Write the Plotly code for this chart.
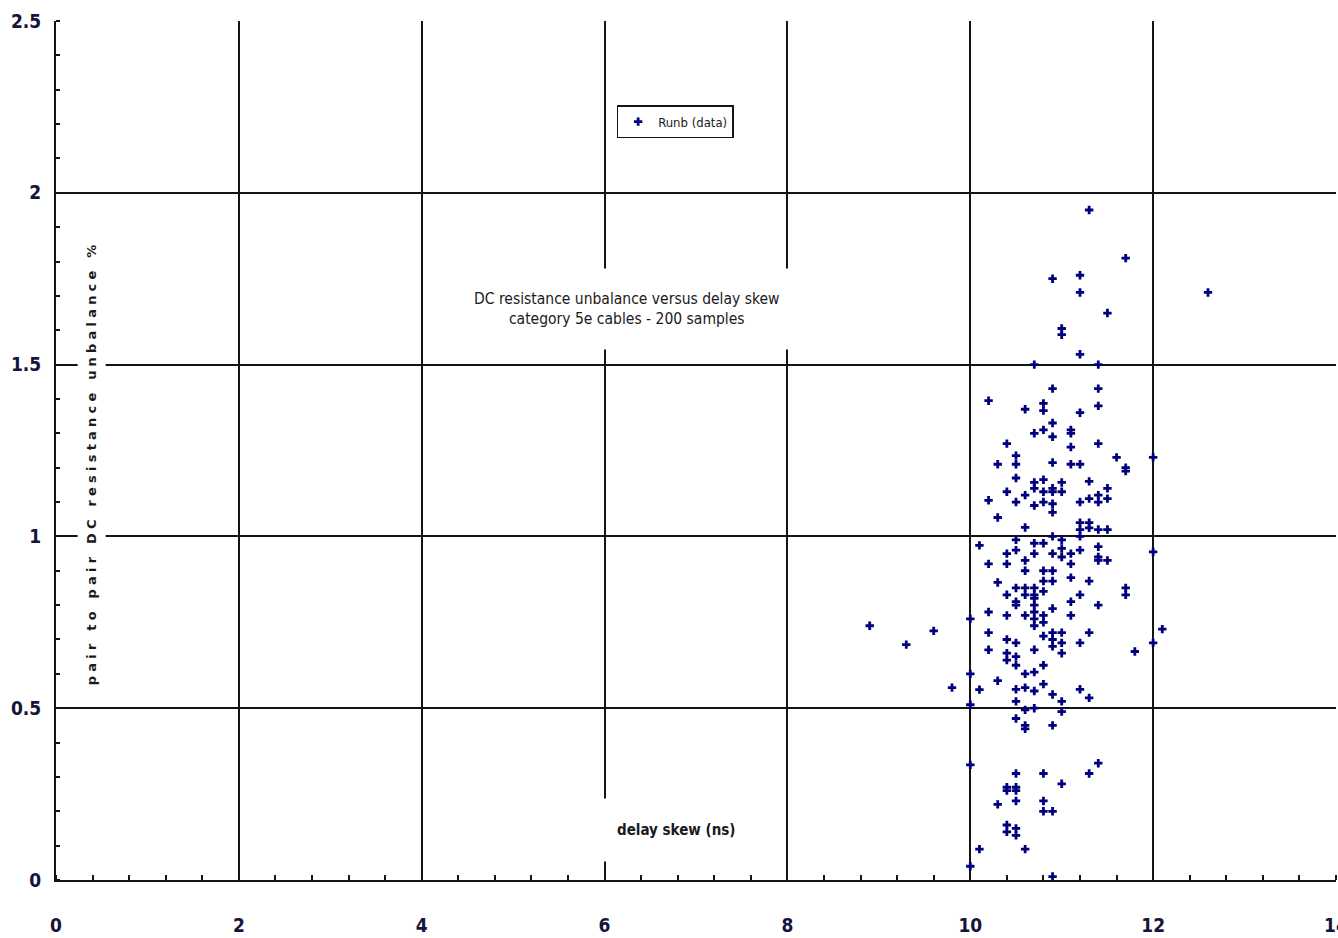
import plotly.graph_objects as go

# delay skew (ns) and DC resistance unbalance (%)
delay_skew_ns = [
    8.9, 9.3, 9.6, 9.8, 12.6, 12.1, 11.8, 12.0, 12.0, 12.0,
    11.3, 11.7, 10.9, 11.2, 11.2, 11.5, 11.0, 11.0, 11.2, 10.7, 11.4, 10.9, 11.4,
    10.2, 10.6, 10.8, 10.8, 11.2, 11.4, 10.9, 10.8, 11.1,
    10.9, 10.7, 11.1, 10.4, 11.4, 11.1, 10.5, 10.5, 11.6, 11.7, 11.7, 10.3, 10.9,
    11.1, 11.2, 10.5, 11.3, 10.7, 10.7, 10.8, 10.9, 10.9, 11.0, 11.0, 10.8, 10.8,
    10.4, 10.5, 10.6, 11.5, 11.4, 11.4, 11.5, 11.3, 11.2, 10.2, 10.7, 10.9, 10.9,
    10.3, 11.2, 11.2, 11.2, 11.3, 11.3, 11.4, 11.5, 10.6, 10.9, 11.0, 10.5, 10.5,
    10.7, 10.7, 10.8, 10.1, 11.2, 11.4, 11.4, 11.4, 11.5, 10.9, 11.0, 11.0, 11.1,
    10.4, 10.4, 10.2, 10.6, 10.6, 11.1, 11.1, 10.8, 10.8, 10.9, 10.9, 11.3, 10.3,
    11.7, 11.7, 10.5, 10.6, 10.6, 10.7, 10.7, 10.7, 10.8, 10.4, 11.2, 11.1, 10.5,
    10.5, 11.4, 10.7, 10.7, 10.9, 10.2, 10.4, 10.6, 10.7, 10.7, 10.8, 10.8, 11.1,
    10.0, 10.2, 10.4, 10.8, 10.9, 10.9, 11.0, 11.0, 11.3, 10.5, 10.7, 10.9, 11.2,
    10.2, 10.4, 10.5, 11.0,
    10.4, 10.5, 10.8, 10.0, 10.6, 10.7, 10.1, 10.3, 10.5, 10.6, 10.7, 10.8, 10.9,
    11.2, 11.3, 10.0, 10.5, 10.7, 10.6, 11.0, 11.0, 10.5, 10.9, 10.6, 10.6,
    11.4, 10.0, 11.3, 10.5, 10.8, 11.0, 10.4, 10.4, 10.5, 10.5, 10.3, 10.5, 10.8,
    10.8, 10.9, 10.4, 10.4, 10.5, 10.5, 10.1, 10.6, 10.0, 10.9,
]
dc_unbalance_pct = [
    0.74, 0.685, 0.725, 0.56, 1.71, 0.73, 0.665, 1.23, 0.955, 0.69,
    1.95, 1.81, 1.75, 1.76, 1.71, 1.65, 1.605, 1.587, 1.53, 1.50, 1.50, 1.43, 1.43,
    1.395, 1.37, 1.387, 1.366, 1.36, 1.38, 1.33, 1.31, 1.31,
    1.29, 1.30, 1.30, 1.27, 1.27, 1.26, 1.235, 1.21, 1.23, 1.20, 1.19, 1.21, 1.215,
    1.21, 1.21, 1.17, 1.16, 1.157, 1.14, 1.165, 1.14, 1.13, 1.157, 1.13, 1.13, 1.10,
    1.13, 1.10, 1.12, 1.14, 1.12, 1.10, 1.11, 1.11, 1.10, 1.105, 1.09, 1.095, 1.07,
    1.055, 1.04, 1.02, 1.00, 1.04, 1.025, 1.02, 1.02, 1.026, 1.00, 0.99, 0.99, 0.96,
    0.98, 0.95, 0.98, 0.974, 0.96, 0.97, 0.94, 0.93, 0.93, 0.95, 0.965, 0.94, 0.95,
    0.95, 0.92, 0.92, 0.93, 0.90, 0.92, 0.88, 0.90, 0.87, 0.90, 0.87, 0.87, 0.866,
    0.85, 0.83, 0.85, 0.85, 0.83, 0.85, 0.83, 0.82, 0.84, 0.83, 0.83, 0.81, 0.81,
    0.80, 0.80, 0.80, 0.78, 0.79, 0.78, 0.77, 0.77, 0.76, 0.74, 0.77, 0.75, 0.77,
    0.76, 0.72, 0.70, 0.71, 0.72, 0.70, 0.72, 0.69, 0.72, 0.69, 0.67, 0.68, 0.69,
    0.67, 0.66, 0.65, 0.66,
    0.64, 0.625, 0.625, 0.60, 0.60, 0.605, 0.554, 0.58, 0.555, 0.56, 0.55, 0.57, 0.54,
    0.555, 0.53, 0.51, 0.52, 0.50, 0.495, 0.52, 0.49, 0.47, 0.45, 0.45, 0.44,
    0.34, 0.335, 0.31, 0.31, 0.31, 0.28, 0.27, 0.26, 0.27, 0.26, 0.22, 0.23, 0.23,
    0.20, 0.20, 0.16, 0.14, 0.15, 0.13, 0.09, 0.09, 0.04, 0.01,
]

x_ticks = [0, 2, 4, 6, 8, 10, 12, 14]
y_ticks = [0, 0.5, 1, 1.5, 2, 2.5]
y_tick_text = ["0", "0.5", "1", "1.5", "2", "2.5"]

series_name = "Runb (data)"
title_text = "DC resistance unbalance versus delay skew<br>category 5e cables - 200 samples"
x_label = "delay skew (ns)"
y_label = "pair to pair DC resistance unbalance %"

INK = "#141414"
NARROW = "DejaVu Sans Condensed, Liberation Sans Narrow, sans-serif"

fig = go.Figure()
fig.add_trace(go.Scatter(
    x=delay_skew_ns, y=dc_unbalance_pct, mode="markers", name=series_name,
    marker=dict(symbol="cross", size=7, color="#00007f"),
))

axis_common = dict(
    showgrid=True, gridcolor=INK, gridwidth=2,
    showline=True, linecolor=INK, linewidth=2,
    zeroline=False, ticks="", automargin=False,
    ticklabeloverflow="allow",
    tickfont=dict(family=NARROW, size=19, color="#15153a", weight="bold"),
)

fig.update_layout(
    width=1338, height=938,
    margin=dict(l=56, r=2, t=21, b=58),
    paper_bgcolor="white", plot_bgcolor="white",
    showlegend=True,
    legend=dict(
        x=0.438, y=0.902, xanchor="left", yanchor="top",
        bordercolor=INK, borderwidth=1.5, bgcolor="white",
        font=dict(family=NARROW, size=13, color="#1a1a1a"),
        itemwidth=30,
    ),
    xaxis=dict(
        range=[0, 14], tickvals=x_ticks, ticktext=[str(v) for v in x_ticks],
        ticklabelstandoff=27,
        minor=dict(dtick=0.4, tick0=0, ticks="inside", ticklen=5, tickwidth=2,
                   tickcolor=INK, showgrid=False),
        **axis_common,
    ),
    yaxis=dict(
        range=[0, 2.5], tickvals=y_ticks, ticktext=y_tick_text,
        ticklabelstandoff=9,
        minor=dict(dtick=0.1, tick0=0, ticks="inside", ticklen=4, tickwidth=2,
                   tickcolor=INK, showgrid=False),
        **axis_common,
    ),
)

fig.add_annotation(
    x=6.25, y=1.663, xref="x", yref="y", text=title_text, showarrow=False,
    font=dict(family=NARROW, size=15.5, color="#1a1a1a"),
    bgcolor="white", borderpad=21, align="center",
)
fig.add_annotation(
    x=6.78, y=0.145, xref="x", yref="y", text=x_label, showarrow=False,
    font=dict(family=NARROW, size=15, color="#1a1a1a", weight="bold"),
    bgcolor="white", borderpad=22,
)
fig.add_annotation(
    x=0.39, y=1.215, xref="x", yref="y",
    text='<span style="letter-spacing:4.2px">' + y_label + '</span>',
    showarrow=False, textangle=-90,
    font=dict(family="DejaVu Sans, sans-serif", size=13, color="#1a1a1a", weight="bold"),
    bgcolor="white", borderpad=6,
)

fig.write_html(
    "out.html",
    config={"displayModeBar": False},
    post_script="document.body.style.margin='0';document.body.style.overflow='hidden';",
)
